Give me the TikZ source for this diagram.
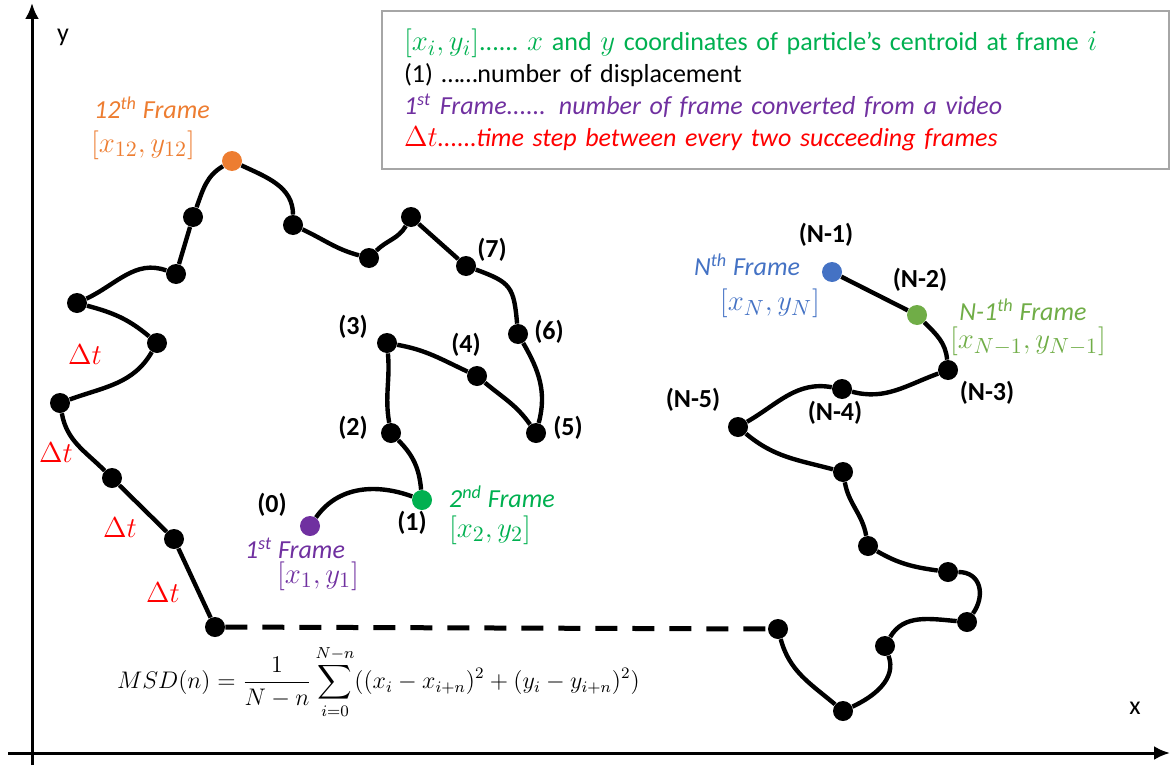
\documentclass[tikz,border=0pt]{standalone}
\usepackage{amsmath}
\usepackage{fontspec}
\setmainfont{Carlito}
\usepackage{xcolor}
\usepackage{tikz}
\usetikzlibrary{arrows.meta}

\definecolor{frpurple}{RGB}{112,48,160}
\definecolor{frgreen}{RGB}{0,176,80}
\definecolor{frorange}{RGB}{237,125,49}
\definecolor{frblue}{RGB}{68,114,196}
\definecolor{frlime}{RGB}{112,173,71}
\definecolor{boxgray}{RGB}{166,166,166}

% math a little larger than the text, as in the original
\newcommand{\crdmath}[1]{{\fontsize{15}{16}\selectfont$#1$}}

\begin{document}
\begin{tikzpicture}[x=0.5pt,y=0.5pt,
    font=\fontsize{13}{16}\selectfont,
    dot/.style={circle,fill=black,inner sep=0pt,minimum size=10pt},
    trail/.style={line width=2.2pt},
    axis/.style={line width=1.5pt,-{Latex[length=8pt,width=7pt]}},
    num/.style={font=\fontsize{13}{16}\selectfont\bfseries},
    framelbl/.style={font=\fontsize{13}{16}\selectfont\itshape},
    dt/.style={text=red}]
        \useasboundingbox (0,0) rectangle (1171,-765);

        % Axes
        \coordinate (ybot) at (32,-765);
        \coordinate (ytop) at (32,-3);
        \coordinate (xleft) at (8,-753);
        \coordinate (xright) at (1170,-753);
        \draw[axis] (ybot) -- (ytop);
        \draw[axis] (xleft) -- (xright);
        \node (ylbl) at (63,-37) {y};
        \node (xlbl) at (1135,-708) {x};

        % Legend box
        \node[draw=boxgray, line width=1pt, anchor=north west, minimum width=393.5pt,
              minimum height=79pt, text width=371.5pt, inner xsep=11pt, align=left] (legend) at (381,-10)
        {\textcolor{frgreen}{\crdmath{[x_i,y_i]}......\ \crdmath{x} and \crdmath{y} coordinates of particle’s centroid at frame \crdmath{i}}\\
         (1) ……number of displacement\\
         \textcolor{frpurple}{\itshape 1\textsuperscript{st} Frame...... number of frame converted from a video}\\
         \textcolor{red}{\crdmath{\Delta t}\itshape......time step between every two succeeding frames}};

        % Frames of the first part of the track
        \node[dot,fill=frpurple] (p0) at (310,-526) {};
        \node[dot,fill=frgreen] (p1) at (422,-500) {};
        \node[dot] (p2) at (391,-433) {};
        \node[dot] (p3) at (387,-343) {};
        \node[dot] (p4) at (477,-376) {};
        \node[dot] (p5) at (536,-433) {};
        \node[dot] (p6) at (518,-334) {};
        \node[dot] (p7) at (466,-266) {};
        \node[dot] (p8) at (411,-217) {};
        \node[dot] (p9) at (369,-258) {};
        \node[dot] (p10) at (293,-225) {};
        \node[dot,fill=frorange] (p11) at (232,-161) {};
        \node[dot] (p12) at (193,-217) {};
        \node[dot] (p13) at (176,-274) {};
        \node[dot] (p14) at (77,-303) {};
        \node[dot] (p15) at (157,-343) {};
        \node[dot] (p16) at (60,-403) {};
        \node[dot] (p17) at (112,-478) {};
        \node[dot] (p18) at (174,-539) {};
        \node[dot] (p19) at (215,-627) {};

        % Frames of the last part of the track
        \node[dot] (q0) at (778,-629) {};
        \node[dot] (q1) at (843,-711) {};
        \node[dot] (q2) at (885,-646) {};
        \node[dot] (q3) at (967,-622) {};
        \node[dot] (q4) at (948,-572) {};
        \node[dot] (q5) at (868,-546) {};
        \node[dot] (q6) at (843,-472) {};
        \node[dot] (q7) at (738,-427) {};
        \node[dot] (q8) at (842,-389) {};
        \node[dot] (q9) at (948,-370) {};
        \node[dot,fill=frlime] (q10) at (917,-315) {};
        \node[dot,fill=frblue] (q11) at (832,-272) {};

        % The track
        \draw[trail] (p0) to[out=55,in=160] (p1);
        \draw[trail] (p1) to[out=95,in=-45] (p2);
        \draw[trail] (p2) to[out=100,in=-85] (p3);
        \draw[trail] (p3) to[out=-10,in=155] (p4);
        \draw[trail] (p4) to[out=-40,in=125] (p5);
        \draw[trail] (p5) to[out=75,in=-60] (p6);
        \draw[trail] (p6) to[out=95,in=-20,looseness=1.4] (p7);
        \draw[trail] (p7) -- (p8);
        \draw[trail] (p8) to[out=-120,in=45] (p9);
        \draw[trail] (p9) to[out=165,in=-25] (p10);
        \draw[trail] (p10) to[out=90,in=-25] (p11);
        \draw[trail] (p11) to[out=-150,in=70] (p12);
        \draw[trail] (p12) -- (p13);
        \draw[trail] (p13) to[out=160,in=25] (p14);
        \draw[trail] (p14) to[out=-15,in=140] (p15);
        \draw[trail] (p15) to[out=-120,in=20] (p16);
        \draw[trail] (p16) to[out=-80,in=135] (p17);
        \draw[trail] (p17) -- (p18);
        \draw[trail] (p18) -- (p19);
        \draw[line width=2.5pt, dash pattern=on 11pt off 7.5pt] (p19) -- (q0);
        \draw[trail] (q0) to[out=-75,in=140] (q1);
        \draw[trail] (q1) to[out=25,in=-70] (q2);
        \draw[trail] (q2) to[out=60,in=175] (q3);
        \draw[trail] (q3) to[out=55,in=0,looseness=1.3] (q4);
        \draw[trail] (q4) to[out=172,in=-30] (q5);
        \draw[trail] (q5) to[out=100,in=-80] (q6);
        \draw[trail] (q6) to[out=165,in=-40] (q7);
        \draw[trail] (q7) to[out=30,in=170] (q8);
        \draw[trail] (q8) to[out=-15,in=-160] (q9);
        \draw[trail] (q9) to[out=95,in=-45] (q10);
        \draw[trail] (q10) -- (q11);

        % Displacement numbers
        \node[num] (n0) at (272,-505) {(0)};
        \node[num] (n1) at (412,-523) {(1)};
        \node[num] (n2) at (353,-428) {(2)};
        \node[num] (n3) at (353,-327) {(3)};
        \node[num] (n4) at (466,-345) {(4)};
        \node[num] (n5) at (568,-428) {(5)};
        \node[num] (n6) at (549,-332) {(6)};
        \node[num] (n7) at (492,-250) {(7)};
        \node[num] (m1) at (826,-235) {(N-1)};
        \node[num] (m2) at (920,-280) {(N-2)};
        \node[num] (m3) at (987,-393) {(N-3)};
        \node[num] (m4) at (835,-413) {(N-4)};
        \node[num] (m5) at (693,-400) {(N-5)};

        % Frame labels
        \node[framelbl,text=frpurple,inner ysep=1pt] (f1) at (295,-548) {1\textsuperscript{st} Frame};
        \node[text=frpurple,inner ysep=1pt] (c1) at (318,-576) {\crdmath{[x_1,y_1]}};
        \node[framelbl,text=frgreen] (f2) at (502,-497) {2\textsuperscript{nd} Frame};
        \node[text=frgreen] (c2) at (490,-530) {\crdmath{[x_2,y_2]}};
        \node[framelbl,text=frorange] (f12) at (152,-108) {12\textsuperscript{th} Frame};
        \node[text=frorange] (c12) at (143,-145) {\crdmath{[x_{12},y_{12}]}};
        \node[framelbl,text=frblue] (fn) at (747,-265) {N\textsuperscript{th} Frame};
        \node[text=frblue] (cn) at (770,-303) {\crdmath{[x_N,y_N]}};
        \node[framelbl,text=frlime] (fn1) at (1023,-310) {N-1\textsuperscript{th} Frame};
        \node[text=frlime] (cn1) at (1028,-341) {\crdmath{[x_{N-1},y_{N-1}]}};

        % Time steps
        \node[dt] (dt1) at (85,-355) {\crdmath{\Delta t}};
        \node[dt] (dt2) at (56,-453) {\crdmath{\Delta t}};
        \node[dt] (dt3) at (120,-528) {\crdmath{\Delta t}};
        \node[dt] (dt4) at (163,-593) {\crdmath{\Delta t}};

        % Mean squared displacement
        \node[anchor=west,font=\fontsize{12}{14}\selectfont,inner ysep=1pt] (msd) at (110,-682)
            {$\displaystyle MSD(n)=\frac{1}{N-n}\sum_{i=0}^{N-n}((x_i-x_{i+n})^2+(y_i-y_{i+n})^2)$};
    \end{tikzpicture}
\end{document}
